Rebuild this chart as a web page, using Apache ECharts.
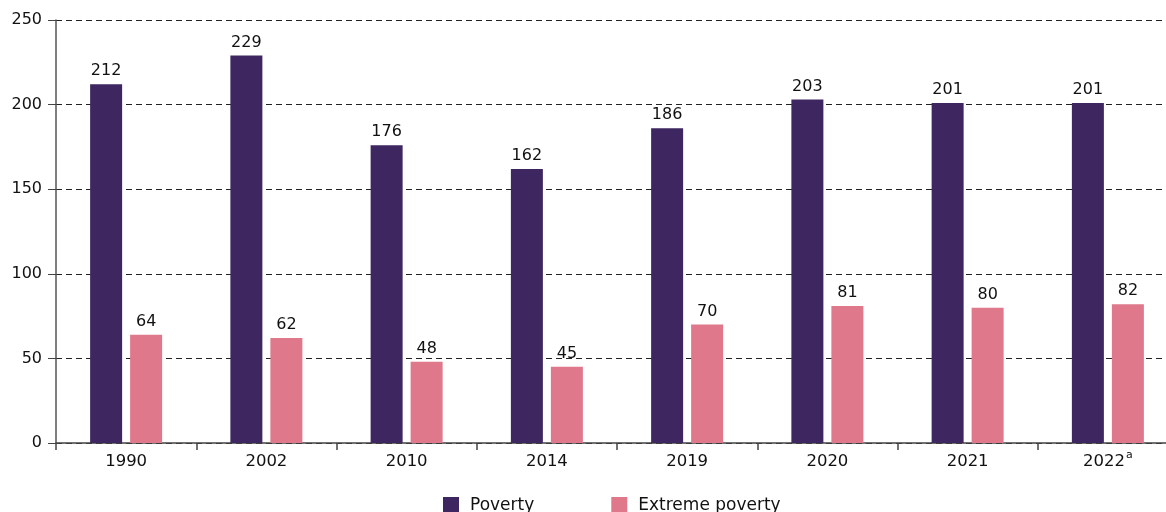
<!DOCTYPE html>
<html>
<head>
<meta charset="utf-8">
<script src="https://cdn.jsdelivr.net/npm/echarts@6/dist/echarts.min.js"></script>
<style>
  html, body { margin: 0; padding: 0; background: #fff; overflow: hidden; }
  #chart { width: 1178px; height: 512px; }
</style>
</head>
<body>
<div id="chart"></div>
<script>
const years = ['1990', '2002', '2010', '2014', '2019', '2020', '2021', '2022'];
const poverty = [212, 229, 176, 162, 186, 203, 201, 201];
const extremePoverty = [64, 62, 48, 45, 70, 81, 80, 82];
const yTicks = [0, 50, 100, 150, 200, 250];
const seriesNames = ['Poverty', 'Extreme poverty'];

const FONT = '"DejaVu Sans", sans-serif';
const chart = echarts.init(document.getElementById('chart'), null, { renderer: 'canvas' });

const labelStyle = {
  show: true,
  position: 'top',
  distance: 5,
  color: '#111',
  fontSize: 16,
  fontFamily: FONT
};

chart.setOption({
  animation: false,
  textStyle: { fontFamily: FONT },
  grid: { left: 56, top: 20, right: 0, bottom: 69, containLabel: false },
  legend: {
    data: seriesNames,
    left: 443,
    top: 497,
    padding: 0,
    itemWidth: 16,
    itemHeight: 17,
    itemGap: 77,
    icon: 'rect',
    textStyle: { fontSize: 17, color: '#111', fontFamily: FONT, padding: [0, 0, 0, 6] }
  },
  xAxis: {
    type: 'category',
    data: years,
    axisLine: { lineStyle: { color: '#444', width: 1.5 } },
    axisTick: { show: true, interval: 0, length: 7, lineStyle: { color: '#444', width: 1.5 } },
    axisLabel: {
      interval: 0,
      color: '#111',
      fontSize: 16.5,
      margin: 7,
      // last year carries a footnote mark
      formatter: function (v, i) {
        return '{n|' + v + '}' + (i === years.length - 1 ? '{sup|a}' : '');
      },
      rich: {
        n: { fontSize: 16.5, lineHeight: 20, verticalAlign: 'bottom', color: '#111' },
        sup: { fontSize: 11, lineHeight: 11, verticalAlign: 'top', padding: [0, 0, 0, 1], color: '#111' }
      }
    }
  },
  yAxis: {
    type: 'value',
    min: yTicks[0],
    max: yTicks[yTicks.length - 1],
    interval: 50,
    axisLine: { show: true, lineStyle: { color: '#555', width: 1.5 } },
    axisTick: { show: true, length: 8, lineStyle: { color: '#444', width: 1 } },
    axisLabel: { color: '#111', fontSize: 16, margin: 14 },
    splitLine: { show: true, lineStyle: { color: '#222', type: [6, 4], width: 1 } }
  },
  series: [
    {
      name: seriesNames[0],
      type: 'bar',
      data: poverty,
      barWidth: 32,
      barGap: '25%',
      itemStyle: { color: '#3e2660' },
      label: labelStyle
    },
    {
      name: seriesNames[1],
      type: 'bar',
      data: extremePoverty,
      barWidth: 32,
      itemStyle: { color: '#de788a' },
      label: labelStyle
    }
  ]
});
</script>
</body>
</html>
